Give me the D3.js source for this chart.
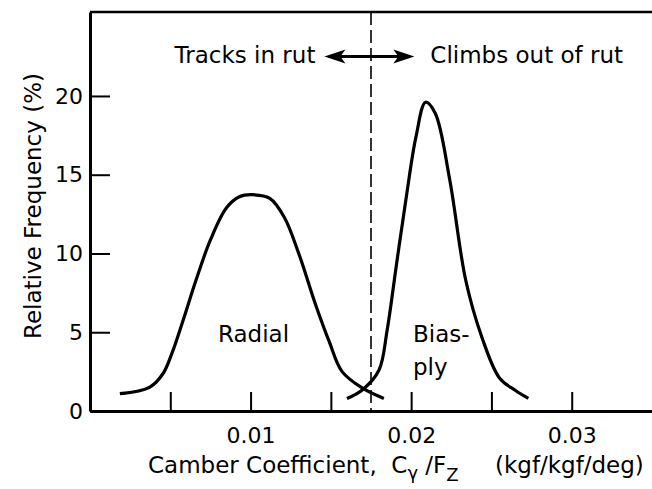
<!DOCTYPE html>
<html lang="en">
  <head>
    <meta charset="utf-8">
    <title>Camber Coefficient Distribution</title>
    <style>
      body {
        margin: 0;
        background: #fff;
      }
      svg text {
        font-family: "DejaVu Sans", sans-serif;
        fill: #000;
      }
      .axis path, .axis line {
        stroke: #000;
      }
    </style>
  </head>
  <body>
    <svg id="chart" width="652" height="489"></svg>

    <script src="https://d3js.org/d3.v7.min.js"></script>
    <script>
      // values
      const radialX = [0.00186, 0.00373, 0.00455, 0.0051, 0.0058, 0.0066, 0.0075, 0.0085, 0.0093, 0.0101, 0.0112, 0.0121, 0.0130, 0.0141, 0.0149, 0.0157, 0.0170, 0.0183];
      const radialY = [1.10, 1.52, 2.38, 3.66, 5.76, 8.3, 10.86, 12.9, 13.6, 13.73, 13.5, 12.3, 10.0, 6.6, 4.4, 2.5, 1.43, 0.8];
      const biasX = [0.0160, 0.0170, 0.0180, 0.0185, 0.0191, 0.0197, 0.0203, 0.0209, 0.0215, 0.0224, 0.0234, 0.0244, 0.0255, 0.0265, 0.0273];
      const biasY = [0.79, 1.37, 2.6, 5.1, 9.4, 13.6, 17.4, 19.6, 18.9, 14.7, 8.3, 4.7, 2.1, 1.3, 0.8];

      const yTicks = [0, 5, 10, 15, 20];
      const xTicks = [0.005, 0.01, 0.015, 0.02, 0.025, 0.03];
      const xLabelTicks = [0.01, 0.02, 0.03];

      const dividerX = 0.0175;
      const arrowX = [0.0146, 0.0202];
      const arrowY = 22.5;

      const svg = d3.select("#chart");

      const x = d3.scaleLinear().domain([0, 0.035]).range([90, 652]);
      const y = d3.scaleLinear().domain([0, 25.33]).range([411, 12]);

      // axes, ticks pointing inward
      const xAxis = d3.axisBottom(x).tickValues(xTicks).tickSize(-19).tickSizeOuter(0).tickPadding(9)
        .tickFormat(d => xLabelTicks.some(t => Math.abs(t - d) < 1e-9) ? d3.format(".2f")(d) : "");
      const yAxis = d3.axisLeft(y).tickValues(yTicks).tickSize(-20).tickSizeOuter(0).tickPadding(7);

      const gx = svg.append("g").attr("class", "axis").attr("transform", `translate(0,${y(0)})`).call(xAxis);
      const gy = svg.append("g").attr("class", "axis").attr("transform", `translate(${x(0)},0)`).call(yAxis);

      gx.select(".domain").attr("stroke-width", 3);
      gy.select(".domain").attr("stroke-width", 3);
      gx.selectAll(".tick line").attr("stroke-width", 2);
      gy.selectAll(".tick line").attr("stroke-width", 2);
      gx.selectAll("text").style("font-size", "22px").attr("fill", "#000").attr("dy", "1.05em");
      gy.selectAll("text").style("font-size", "22px").attr("fill", "#000");

      // top frame line
      svg.append("line")
        .attr("x1", x(0)).attr("x2", x(0.035))
        .attr("y1", y(25.33)).attr("y2", y(25.33))
        .attr("stroke", "#000").attr("stroke-width", 2.5);

      // dashed divider
      svg.append("line")
        .attr("x1", x(dividerX)).attr("x2", x(dividerX))
        .attr("y1", y(25.33)).attr("y2", y(0))
        .attr("stroke", "#000").attr("stroke-width", 1.6)
        .attr("stroke-dasharray", "13,5");

      // curves
      const line = d3.line().x(d => x(d[0])).y(d => y(d[1])).curve(d3.curveCatmullRom.alpha(0.5));
      svg.append("path").datum(d3.zip(radialX, radialY))
        .attr("d", line).attr("fill", "none").attr("stroke", "#000").attr("stroke-width", 3.2);
      svg.append("path").datum(d3.zip(biasX, biasY))
        .attr("d", line).attr("fill", "none").attr("stroke", "#000").attr("stroke-width", 3.2);

      // double arrow
      const ax0 = x(arrowX[0]), ax1 = x(arrowX[1]), ay = y(arrowY);
      svg.append("line").attr("x1", ax0 + 10).attr("x2", ax1 - 10).attr("y1", ay).attr("y2", ay)
        .attr("stroke", "#000").attr("stroke-width", 3);
      svg.append("path").attr("d", `M${ax0},${ay} L${ax0 + 21},${ay - 7} L${ax0 + 16},${ay} L${ax0 + 21},${ay + 7} Z`);
      svg.append("path").attr("d", `M${ax1},${ay} L${ax1 - 21},${ay - 7} L${ax1 - 16},${ay} L${ax1 - 21},${ay + 7} Z`);

      // annotations
      svg.append("text").attr("x", ax0 - 9).attr("y", ay + 6).attr("text-anchor", "end")
        .style("font-size", "23px").text("Tracks in rut");
      svg.append("text").attr("x", ax1 + 16).attr("y", ay + 6)
        .style("font-size", "23px").text("Climbs out of rut");
      svg.append("text").attr("x", 218).attr("y", 342).style("font-size", "23px").text("Radial");
      svg.append("text").attr("x", 413).attr("y", 342).style("font-size", "23px").text("Bias-");
      svg.append("text").attr("x", 413).attr("y", 375).style("font-size", "23px").text("ply");

      // axis titles
      svg.append("text")
        .attr("transform", "translate(41,206) rotate(-90)")
        .attr("text-anchor", "middle")
        .style("font-size", "23px")
        .text("Relative Frequency (%)");

      const xt = svg.append("text").attr("x", 148).attr("y", 473)
        .style("font-size", "23px").style("white-space", "pre");
      xt.append("tspan").text("Camber Coefficient,  C");
      xt.append("tspan").attr("dy", 6).style("font-size", "18px").text("γ");
      xt.append("tspan").attr("dy", -6).text(" /F");
      xt.append("tspan").attr("dy", 8).style("font-size", "18px").text("Z");
      xt.append("tspan").attr("x", 495).attr("dy", -8).text("(kgf/kgf/deg)");
    </script>
  </body>
</html>
